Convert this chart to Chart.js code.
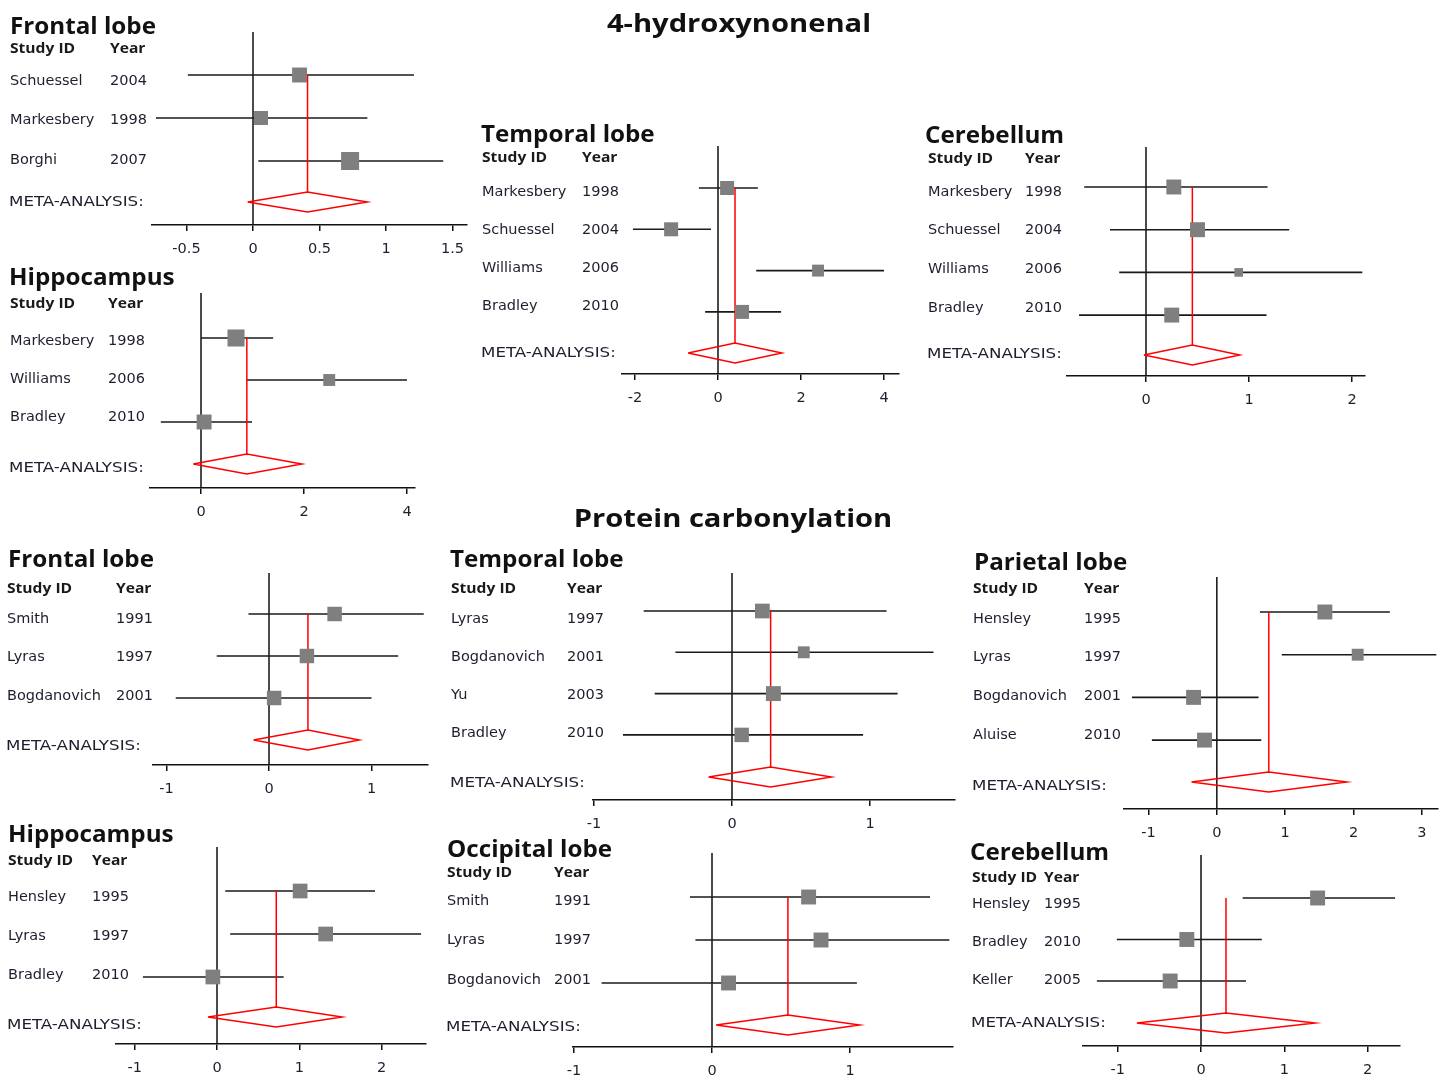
<!DOCTYPE html>
<html>
<head>
<meta charset="utf-8">
<title>Forest plots: 4-hydroxynonenal and protein carbonylation</title>
<script src="https://cdn.jsdelivr.net/npm/chart.js@4.4.0/dist/chart.umd.min.js"></script>
<style>
  body { margin: 0; background: #fff; }
  #page { position: relative; width: 1448px; height: 1079px; overflow: hidden; background: #fff; }
  #page canvas { position: absolute; left: 0; top: 0; }
</style>
</head>
<body>
<div id="page"></div>
<script>
// ---- data (standardised effect, 95% CI, relative weight) ----

const sectionTitles = ['4-hydroxynonenal', 'Protein carbonylation'];

// 4-hydroxynonenal: frontal lobe
const hneFrontalStudies = ['Schuessel', 'Markesbery', 'Borghi'];
const hneFrontalYears = ['2004', '1998', '2007'];
const hneFrontalEst = [0.35, 0.06, 0.73];
const hneFrontalLow = [-0.49, -0.73, 0.04];
const hneFrontalHigh = [1.21, 0.86, 1.43];
const hneFrontalWeight = [33, 29, 48];
const hneFrontalMeta = [0.41, -0.04, 0.86]; // estimate, low, high
const hneFrontalTicks = [-0.5, 0, 0.5, 1, 1.5];

// 4-hydroxynonenal: hippocampus
const hneHippoStudies = ['Markesbery', 'Williams', 'Bradley'];
const hneHippoYears = ['1998', '2006', '2010'];
const hneHippoEst = [0.68, 2.49, 0.06];
const hneHippoLow = [0.0, 0.89, -0.78];
const hneHippoHigh = [1.40, 4.0, 0.99];
const hneHippoWeight = [43, 21, 33];
const hneHippoMeta = [0.89, -0.15, 1.96];
const hneHippoTicks = [0, 2, 4];

// 4-hydroxynonenal: temporal lobe
const hneTemporalStudies = ['Markesbery', 'Schuessel', 'Williams', 'Bradley'];
const hneTemporalYears = ['1998', '2004', '2006', '2010'];
const hneTemporalEst = [0.22, -1.13, 2.41, 0.58];
const hneTemporalLow = [-0.46, -2.05, 0.92, -0.31];
const hneTemporalHigh = [0.96, -0.17, 4.0, 1.52];
const hneTemporalWeight = [29, 29, 21, 29];
const hneTemporalMeta = [0.41, -0.72, 1.54];
const hneTemporalTicks = [-2, 0, 2, 4];

// 4-hydroxynonenal: cerebellum
const hneCerebStudies = ['Markesbery', 'Schuessel', 'Williams', 'Bradley'];
const hneCerebYears = ['1998', '2004', '2006', '2010'];
const hneCerebEst = [0.27, 0.50, 0.90, 0.25];
const hneCerebLow = [-0.60, -0.35, -0.26, -0.65];
const hneCerebHigh = [1.18, 1.39, 2.10, 1.17];
const hneCerebWeight = [33, 33, 11, 33];
const hneCerebMeta = [0.45, -0.02, 0.91];
const hneCerebTicks = [0, 1, 2];

// protein carbonylation: frontal lobe
const pcFrontalStudies = ['Smith', 'Lyras', 'Bogdanovich'];
const pcFrontalYears = ['1991', '1997', '2001'];
const pcFrontalEst = [0.64, 0.37, 0.05];
const pcFrontalLow = [-0.20, -0.51, -0.91];
const pcFrontalHigh = [1.51, 1.26, 1.0];
const pcFrontalWeight = [31, 31, 31];
const pcFrontalMeta = [0.38, -0.15, 0.88];
const pcFrontalTicks = [-1, 0, 1];

// protein carbonylation: temporal lobe
const pcTemporalStudies = ['Lyras', 'Bogdanovich', 'Yu', 'Bradley'];
const pcTemporalYears = ['1997', '2001', '2003', '2010'];
const pcTemporalEst = [0.22, 0.52, 0.30, 0.07];
const pcTemporalLow = [-0.64, -0.41, -0.56, -0.79];
const pcTemporalHigh = [1.12, 1.46, 1.20, 0.95];
const pcTemporalWeight = [32, 21, 33, 31];
const pcTemporalMeta = [0.28, -0.17, 0.72];
const pcTemporalTicks = [-1, 0, 1];

// protein carbonylation: parietal lobe
const pcParietalStudies = ['Hensley', 'Lyras', 'Bogdanovich', 'Aluise'];
const pcParietalYears = ['1995', '1997', '2001', '2010'];
const pcParietalEst = [1.58, 2.06, -0.34, -0.18];
const pcParietalLow = [0.63, 0.95, -1.24, -0.95];
const pcParietalHigh = [2.53, 3.21, 0.61, 0.65];
const pcParietalWeight = [33, 21, 33, 33];
const pcParietalMeta = [0.76, -0.37, 1.90];
const pcParietalTicks = [-1, 0, 1, 2, 3];

// protein carbonylation: hippocampus
const pcHippoStudies = ['Hensley', 'Lyras', 'Bradley'];
const pcHippoYears = ['1995', '1997', '2010'];
const pcHippoEst = [1.01, 1.32, -0.05];
const pcHippoLow = [0.10, 0.16, -0.90];
const pcHippoHigh = [1.92, 2.48, 0.81];
const pcHippoWeight = [32, 32, 32];
const pcHippoMeta = [0.72, -0.11, 1.52];
const pcHippoTicks = [-1, 0, 1, 2];

// protein carbonylation: occipital lobe
const pcOccipitalStudies = ['Smith', 'Lyras', 'Bogdanovich'];
const pcOccipitalYears = ['1991', '1997', '2001'];
const pcOccipitalEst = [0.70, 0.79, 0.12];
const pcOccipitalLow = [-0.16, -0.12, -0.80];
const pcOccipitalHigh = [1.58, 1.72, 1.05];
const pcOccipitalWeight = [33, 33, 33];
const pcOccipitalMeta = [0.55, 0.03, 1.07];
const pcOccipitalTicks = [-1, 0, 1];

// protein carbonylation: cerebellum
const pcCerebStudies = ['Hensley', 'Bradley', 'Keller'];
const pcCerebYears = ['1995', '2010', '2005'];
const pcCerebEst = [1.40, -0.17, -0.37];
const pcCerebLow = [0.50, -1.01, -1.25];
const pcCerebHigh = [2.33, 0.73, 0.54];
const pcCerebWeight = [33, 33, 33];
const pcCerebMeta = [0.30, -0.77, 1.37];
const pcCerebTicks = [-1, 0, 1, 2];

// ---- layout (page pixels) ----
const W = 1448, H = 1079;
const AXIS_H = 30;        // height reserved for the x axis under each plot
const DIAMOND_HALF = 10;  // half height of the summary diamond, px
const SQUARE_K = 2.6;     // square side per sqrt(weight), px

const LABEL_FONT = '14.5px "DejaVu Sans"';
const TICK_FONT_SIZE = 14.5;
const LABEL_COLOR = '#1e1e2e';

// box: x0 = pixel of zero, ppu = pixels per unit, axisL/axisR = ends of the axis line,
// top = top of the zero line, row0/step = first study row and spacing, metaY = diamond, axisY = axis line
const panels = [
  { title: 'Frontal lobe', studies: hneFrontalStudies, years: hneFrontalYears, est: hneFrontalEst,
    low: hneFrontalLow, high: hneFrontalHigh, weight: hneFrontalWeight, meta: hneFrontalMeta, ticks: hneFrontalTicks,
    box: { x0: 253, ppu: 133, axisL: 152, axisR: 467, top: 32, row0: 75, step: 43, metaY: 202, axisY: 225 },
    text: { titleX: 10, titleY: 34, headY: 53, nameX: 10, yearX: 110, lab0: 81, labStep: 39.5, metaLabY: 202 } },
  { title: 'Hippocampus', studies: hneHippoStudies, years: hneHippoYears, est: hneHippoEst,
    low: hneHippoLow, high: hneHippoHigh, weight: hneHippoWeight, meta: hneHippoMeta, ticks: hneHippoTicks,
    box: { x0: 201, ppu: 51.5, axisL: 150, axisR: 415, top: 293, row0: 338, step: 42, metaY: 464, axisY: 488 },
    text: { titleX: 9, titleY: 285, headY: 308, nameX: 10, yearX: 108, lab0: 341, labStep: 38, metaLabY: 468 } },
  { title: 'Temporal lobe', studies: hneTemporalStudies, years: hneTemporalYears, est: hneTemporalEst,
    low: hneTemporalLow, high: hneTemporalHigh, weight: hneTemporalWeight, meta: hneTemporalMeta, ticks: hneTemporalTicks,
    box: { x0: 718, ppu: 41.5, axisL: 622, axisR: 899, top: 146, row0: 188, step: 41.3, metaY: 353, axisY: 374 },
    text: { titleX: 481, titleY: 142, headY: 162, nameX: 482, yearX: 582, lab0: 192, labStep: 38, metaLabY: 353 } },
  { title: 'Cerebellum', studies: hneCerebStudies, years: hneCerebYears, est: hneCerebEst,
    low: hneCerebLow, high: hneCerebHigh, weight: hneCerebWeight, meta: hneCerebMeta, ticks: hneCerebTicks,
    box: { x0: 1146, ppu: 103, axisL: 1067, axisR: 1365, top: 147, row0: 187, step: 42.7, metaY: 355, axisY: 376 },
    text: { titleX: 925, titleY: 143, headY: 163, nameX: 928, yearX: 1025, lab0: 192, labStep: 38.7, metaLabY: 354 } },
  { title: 'Frontal lobe', studies: pcFrontalStudies, years: pcFrontalYears, est: pcFrontalEst,
    low: pcFrontalLow, high: pcFrontalHigh, weight: pcFrontalWeight, meta: pcFrontalMeta, ticks: pcFrontalTicks,
    box: { x0: 269, ppu: 102.5, axisL: 153, axisR: 428, top: 573, row0: 614, step: 42, metaY: 740, axisY: 765 },
    text: { titleX: 8, titleY: 567, headY: 593, nameX: 7, yearX: 116, lab0: 619, labStep: 38.5, metaLabY: 746 } },
  { title: 'Temporal lobe', studies: pcTemporalStudies, years: pcTemporalYears, est: pcTemporalEst,
    low: pcTemporalLow, high: pcTemporalHigh, weight: pcTemporalWeight, meta: pcTemporalMeta, ticks: pcTemporalTicks,
    box: { x0: 732, ppu: 138, axisL: 593, axisR: 955, top: 573, row0: 611, step: 41.3, metaY: 777, axisY: 800 },
    text: { titleX: 450, titleY: 567, headY: 593, nameX: 451, yearX: 567, lab0: 619, labStep: 38, metaLabY: 783 } },
  { title: 'Parietal lobe', studies: pcParietalStudies, years: pcParietalYears, est: pcParietalEst,
    low: pcParietalLow, high: pcParietalHigh, weight: pcParietalWeight, meta: pcParietalMeta, ticks: pcParietalTicks,
    box: { x0: 1217, ppu: 68.5, axisL: 1124, axisR: 1438, top: 577, row0: 612, step: 42.7, metaY: 782, axisY: 809 },
    text: { titleX: 974, titleY: 570, headY: 593, nameX: 973, yearX: 1084, lab0: 619, labStep: 38.7, metaLabY: 786 } },
  { title: 'Hippocampus', studies: pcHippoStudies, years: pcHippoYears, est: pcHippoEst,
    low: pcHippoLow, high: pcHippoHigh, weight: pcHippoWeight, meta: pcHippoMeta, ticks: pcHippoTicks,
    box: { x0: 217, ppu: 82.3, axisL: 116, axisR: 426, top: 847, row0: 891, step: 43, metaY: 1017, axisY: 1044 },
    text: { titleX: 8, titleY: 842, headY: 865, nameX: 8, yearX: 92, lab0: 897, labStep: 39, metaLabY: 1025 } },
  { title: 'Occipital lobe', studies: pcOccipitalStudies, years: pcOccipitalYears, est: pcOccipitalEst,
    low: pcOccipitalLow, high: pcOccipitalHigh, weight: pcOccipitalWeight, meta: pcOccipitalMeta, ticks: pcOccipitalTicks,
    box: { x0: 712, ppu: 138, axisL: 573, axisR: 953, top: 853, row0: 897, step: 43, metaY: 1025, axisY: 1047 },
    text: { titleX: 447, titleY: 857, headY: 877, nameX: 447, yearX: 554, lab0: 901, labStep: 39.5, metaLabY: 1027 } },
  { title: 'Cerebellum', studies: pcCerebStudies, years: pcCerebYears, est: pcCerebEst,
    low: pcCerebLow, high: pcCerebHigh, weight: pcCerebWeight, meta: pcCerebMeta, ticks: pcCerebTicks,
    box: { x0: 1201, ppu: 83.3, axisL: 1083, axisR: 1400, top: 855, row0: 898, step: 41.5, metaY: 1023, axisY: 1046 },
    text: { titleX: 970, titleY: 860, headY: 882, nameX: 972, yearX: 1044, lab0: 904, labStep: 38, metaLabY: 1023 } },
];

// centre x and baseline of the two section headings
const sectionPos = [{ x: 739, y: 32 }, { x: 733, y: 527 }];

// draw text squeezed/stretched horizontally (the source figure is a bit wider than tall)
function drawText(ctx, str, x, y, font, sx, align, baseline) {
  ctx.save();
  ctx.font = font;
  ctx.textAlign = align || 'left';
  ctx.textBaseline = baseline || 'alphabetic';
  ctx.translate(x, y);
  ctx.scale(sx, 1);
  ctx.fillText(str, 0, 0);
  ctx.restore();
}

// study names, years, titles
function textPlugin(p) {
  return {
    id: 'forestText',
    afterDraw(chart) {
      const ctx = chart.ctx;
      const t = p.text;
      ctx.save();
      ctx.fillStyle = '#111';
      drawText(ctx, p.title, t.titleX, t.titleY, 'bold 23.5px "Open Sans"', 1.03);
      ctx.fillStyle = '#1a1a1a';
      drawText(ctx, 'Study ID', t.nameX, t.headY, 'bold 15px "Open Sans"', 1.04);
      drawText(ctx, 'Year', t.yearX, t.headY, 'bold 15px "Open Sans"', 1.04);
      ctx.fillStyle = LABEL_COLOR;
      ctx.font = LABEL_FONT;
      ctx.textBaseline = 'middle';
      p.studies.forEach((name, i) => {
        const y = t.lab0 + i * t.labStep;
        ctx.fillText(name, t.nameX, y);
        ctx.fillText(p.years[i], t.yearX, y);
      });
      drawText(ctx, 'META-ANALYSIS:', t.nameX - 1, t.metaLabY, LABEL_FONT, 1.15, 'left', 'middle');
      ctx.restore();
    }
  };
}

const sectionPlugin = {
  id: 'sectionTitles',
  afterDraw(chart) {
    const ctx = chart.ctx;
    ctx.save();
    ctx.fillStyle = '#111';
    sectionTitles.forEach((s, i) => {
      drawText(ctx, s, sectionPos[i].x, sectionPos[i].y, 'bold 24.5px "Open Sans"', 1.19, 'center');
    });
    ctx.restore();
  }
};

function lineSet(data, color, width, order) {
  return { data: data, showLine: true, borderColor: color, borderWidth: width,
           pointRadius: 0, pointHoverRadius: 0, fill: false, tension: 0, clip: false, order: order };
}

function buildPanel(p, index) {
  const g = p.box;
  const xMin = (g.axisL - g.x0) / g.ppu;
  const xMax = (g.axisR - g.x0) / g.ppu;
  const yMin = (g.top - g.row0) / g.step;
  const yMax = (g.axisY - g.row0) / g.step;
  const metaPos = (g.metaY - g.row0) / g.step;
  const dh = DIAMOND_HALF / g.step;
  const [mEst, mLow, mHigh] = p.meta;

  const datasets = [];
  // line of no effect
  datasets.push(lineSet([{ x: 0, y: yMin }, { x: 0, y: yMax }], '#111', 1.5, 6));
  // confidence intervals
  p.low.forEach((lo, i) => {
    datasets.push(lineSet([{ x: lo, y: i }, { x: p.high[i], y: i }], '#1a1a1a', 1.6, 5));
  });
  // pooled estimate line + diamond
  datasets.push(lineSet([{ x: mEst, y: 0 }, { x: mEst, y: metaPos - dh }], '#ff0000', 1.5, 4));
  datasets.push(lineSet([
    { x: mLow, y: metaPos }, { x: mEst, y: metaPos - dh }, { x: mHigh, y: metaPos },
    { x: mEst, y: metaPos + dh }, { x: mLow, y: metaPos }
  ], '#ff0000', 1.5, 3));
  // study estimates, square size from weight
  datasets.push({
    data: p.est.map((v, i) => ({ x: v, y: i })),
    showLine: false,
    pointStyle: 'rect',
    pointRadius: p.weight.map(w => SQUARE_K * Math.sqrt(w) / Math.SQRT2),
    pointHoverRadius: p.weight.map(w => SQUARE_K * Math.sqrt(w) / Math.SQRT2),
    backgroundColor: '#7f7f7f',
    pointBorderWidth: 0,
    borderWidth: 0,
    clip: false,
    order: 1
  });

  const canvas = document.createElement('canvas');
  canvas.width = W;
  canvas.height = H;
  document.getElementById('page').appendChild(canvas);

  const plugins = [textPlugin(p)];
  if (index === 0) plugins.push(sectionPlugin);

  return new Chart(canvas.getContext('2d'), {
    type: 'scatter',
    data: { datasets: datasets },
    options: {
      responsive: false,
      animation: false,
      events: [],
      devicePixelRatio: 1,
      layout: { padding: { left: g.axisL, right: W - g.axisR, top: g.top, bottom: H - g.axisY - AXIS_H } },
      plugins: { legend: { display: false }, tooltip: { enabled: false }, title: { display: false } },
      scales: {
        x: {
          type: 'linear',
          min: xMin,
          max: xMax,
          afterBuildTicks: (s) => { s.ticks = p.ticks.map(v => ({ value: v })); },
          afterFit: (s) => { s.height = AXIS_H; },
          border: { display: true, color: '#111', width: 1.5 },
          grid: { display: true, drawOnChartArea: false, drawTicks: true, tickLength: 6, color: '#111', lineWidth: 1.5 },
          ticks: {
            autoSkip: false,
            maxRotation: 0,
            padding: 10,
            color: LABEL_COLOR,
            font: { family: '"DejaVu Sans"', size: TICK_FONT_SIZE },
            callback: (v) => String(v)
          }
        },
        y: { type: 'linear', reverse: true, min: yMin, max: yMax, display: false }
      }
    },
    plugins: plugins
  });
}

panels.forEach((p, i) => buildPanel(p, i));
</script>
</body>
</html>
